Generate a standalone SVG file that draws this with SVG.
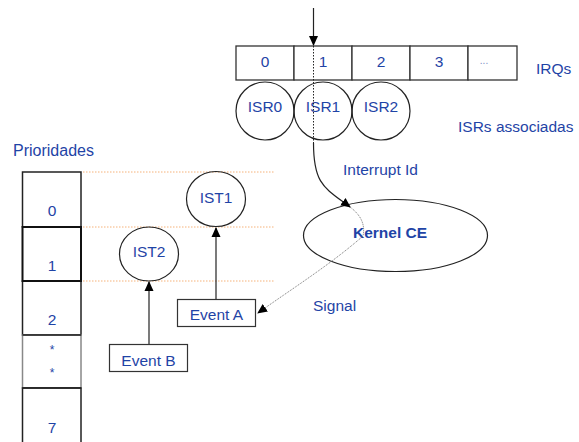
<svg xmlns="http://www.w3.org/2000/svg" width="579" height="442" viewBox="0 0 579 442">
<style>
text{font-family:"Liberation Sans",Arial,sans-serif;font-size:15.5px;fill:#1f44a6}
.c{text-anchor:middle}
.cell{fill:#fff;stroke:#333;stroke-width:1.3}
.circ{fill:none;stroke:#222;stroke-width:1.2}
.pc{fill:#fff;stroke:#222;stroke-width:1.5}
.guide{stroke:#f5b27a;stroke-width:1;stroke-dasharray:1.5,1.5;fill:none}
.conn{stroke:#222;stroke-width:1.2;fill:none}
</style>
<defs>
<marker id="ah" markerWidth="10" markerHeight="10" refX="9" refY="5" orient="auto" markerUnits="userSpaceOnUse">
<path d="M0,0.5 L10,5 L0,9.5 Z" fill="#000"/>
</marker>
</defs>
<g id="guides">
<line class="guide" x1="83" y1="172" x2="275" y2="172"/>
<line class="guide" x1="83" y1="227" x2="275" y2="227"/>
<line class="guide" x1="83" y1="281" x2="275" y2="281"/>
</g>
<g id="irqs">
<rect class="cell" x="236" y="46" width="58" height="34"/>
<rect class="cell" x="294" y="46" width="58" height="34"/>
<rect class="cell" x="352" y="46" width="58" height="34"/>
<rect class="cell" x="410" y="46" width="58" height="34"/>
<rect class="cell" x="468" y="46" width="49" height="34"/>
<text class="c" x="265" y="67">0</text>
<text class="c" x="323" y="67">1</text>
<text class="c" x="381" y="67">2</text>
<text class="c" x="439" y="67">3</text>
<text class="c" x="484" y="64" style="font-size:10px;fill:#7d8cc4">...</text>
<text x="536" y="74">IRQs</text>
</g>
<g id="isr0"><circle class="circ" cx="265" cy="111" r="29"/><text class="c" x="265" y="112">ISR0</text></g>
<g id="isr1"><circle class="circ" cx="323" cy="111" r="29"/><text class="c" x="323" y="112">ISR1</text></g>
<g id="isr2"><circle class="circ" cx="381" cy="111" r="29"/><text class="c" x="381" y="112">ISR2</text></g>
<text x="458" y="132">ISRs associadas</text>
<g id="prioridades">
<text x="13" y="156" style="font-size:16px">Prioridades</text>
<rect class="pc" x="22.5" y="172" width="58.5" height="55"/>
<rect class="pc" x="22.5" y="281" width="58.5" height="54"/>
<rect x="22.5" y="335" width="58.5" height="53" fill="#fff" stroke="#888" stroke-width="1.5"/>
<rect class="pc" x="22.5" y="388" width="58.5" height="70"/>
<rect x="22.5" y="227" width="58.5" height="54" fill="#fff" stroke="#111" stroke-width="2"/>
<line x1="22.5" y1="335" x2="81" y2="335" stroke="#222" stroke-width="1.5"/>
<line x1="22.5" y1="388" x2="81" y2="388" stroke="#222" stroke-width="1.5"/>
<text class="c" x="52" y="216">0</text>
<text class="c" x="52" y="271">1</text>
<text class="c" x="52" y="325">2</text>
<text class="c" x="52" y="354" style="font-size:12px">*</text>
<text class="c" x="52" y="377" style="font-size:12px">*</text>
<text class="c" x="52" y="433">7</text>
</g>
<g id="ist1"><ellipse class="circ" cx="216" cy="199" rx="29.5" ry="27.5"/><text class="c" x="216" y="203">IST1</text></g>
<g id="ist2"><ellipse class="circ" cx="149" cy="254" rx="29.5" ry="27"/><text class="c" x="149" y="257">IST2</text></g>
<g id="eventA"><rect x="177.5" y="299.5" width="78" height="27" fill="#fff" stroke="#333" stroke-width="1.2"/><text class="c" x="216.5" y="320">Event A</text></g>
<g id="eventB"><rect x="109.5" y="344.5" width="78" height="27" fill="#fff" stroke="#333" stroke-width="1.2"/><text class="c" x="148.5" y="366">Event B</text></g>
<g id="kernel"><ellipse class="circ" cx="395.5" cy="235.5" rx="92" ry="36"/><text class="c" x="390" y="238" style="font-weight:bold">Kernel CE</text></g>
<g id="connectors">
<line class="conn" x1="313.5" y1="8" x2="313.5" y2="45" marker-end="url(#ah)"/>
<line x1="313.5" y1="46" x2="313.5" y2="143" stroke="#222" stroke-width="1" stroke-dasharray="1.5,1.5"/>
<path class="conn" d="M313.5,143 C313.5,185 325,188 350,207" marker-end="url(#ah)"/>
<path d="M350,207 C358,213 366,222 363,236 C330,265 290,290 258,313" fill="none" stroke="#777" stroke-width="1" stroke-dasharray="1,1" marker-end="url(#ah)"/>
<line class="conn" x1="216" y1="299" x2="216" y2="228" marker-end="url(#ah)"/>
<line class="conn" x1="149" y1="344" x2="149" y2="282" marker-end="url(#ah)"/>
</g>
<text x="343" y="175">Interrupt Id</text>
<text x="313" y="311">Signal</text>
</svg>
